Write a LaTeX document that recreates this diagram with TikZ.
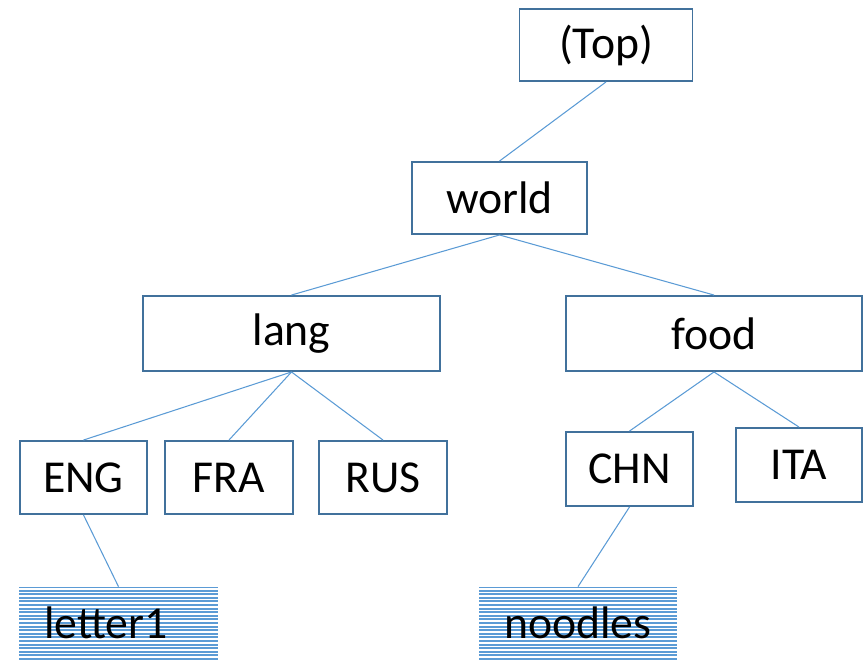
\documentclass[tikz,border=0pt]{standalone}
\usepackage{fontspec}
\setmainfont{Carlito}
\usetikzlibrary{calc}
\definecolor{boxedge}{HTML}{41719C}
\definecolor{linkblue}{HTML}{5B9BD5}
\tikzset{
  box/.style={draw=boxedge, line width=1.1pt, rectangle, inner sep=0pt,
    font=\fontsize{26}{30}\selectfont},
  leafbox/.style={rectangle, inner sep=0pt, font=\fontsize{26}{30}\selectfont,
    path picture={
      \foreach \k in {0,...,20}
        \draw[linkblue, line width=1.1pt]
          ($(path picture bounding box.north west)!\k/20!(path picture bounding box.south west)$)
          -- ($(path picture bounding box.north east)!\k/20!(path picture bounding box.south east)$);
    }},
  link/.style={linkblue, line width=0.6pt}
}
\begin{document}
\begin{tikzpicture}[x=0.02cm,y=-0.02cm]
		\useasboundingbox (0,0) rectangle (866,660);
		% upper levels
		\node[box, minimum width=3.46cm, minimum height=1.44cm] (top) at (606,45) {(Top)};
		\node[box, minimum width=3.5cm, minimum height=1.44cm] (world) at (499.5,198) {world};
		\node[box, minimum width=5.94cm, minimum height=1.5cm] (lang) at (291.5,333.5) {lang};
		\node[box, minimum width=5.92cm, minimum height=1.5cm] (food) at (714,333.5) {food};
		%
		% languages and countries
		\node[box, minimum width=2.54cm, minimum height=1.46cm] (eng) at (83.5,477.5) {ENG};
		\node[box, minimum width=2.56cm, minimum height=1.46cm] (fra) at (229,477.5) {FRA};
		\node[box, minimum width=2.56cm, minimum height=1.46cm] (rus) at (383,477.5) {RUS};
		\node[box, minimum width=2.54cm, minimum height=1.48cm] (chn) at (629.5,469) {CHN};
		\node[box, minimum width=2.52cm, minimum height=1.48cm] (ita) at (799,465) {ITA};
		%
		% leaves
		\node[leafbox, minimum width=3.98cm, minimum height=1.44cm] (letter) at (118.5,623) {\hspace*{-0.5cm}letter1};
		\node[leafbox, minimum width=3.96cm, minimum height=1.44cm] (noodles) at (578,623) {noodles};
		%
		\draw[link] (top.south) -- (world.north);
		\draw[link] (world.south) -- (lang.north);
		\draw[link] (world.south) -- (food.north);
		\draw[link] (lang.south) -- (eng.north);
		\draw[link] (lang.south) -- (fra.north);
		\draw[link] (lang.south) -- (rus.north);
		\draw[link] (food.south) -- (chn.north);
		\draw[link] (food.south) -- (ita.north);
		\draw[link] (eng.south) -- (letter.north);
		\draw[link] (chn.south) -- (noodles.north);
	\end{tikzpicture}
\end{document}
